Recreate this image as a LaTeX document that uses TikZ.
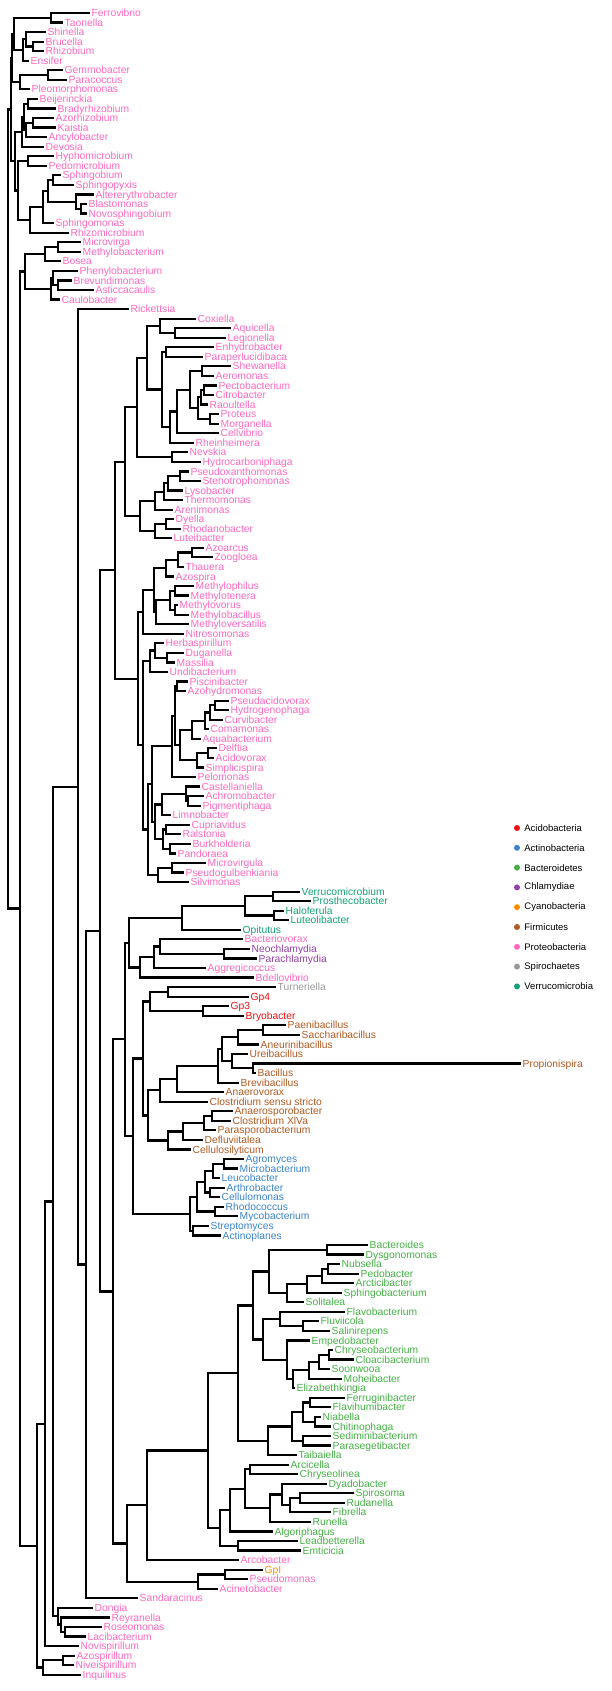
\documentclass[tikz,border=0pt]{standalone}
\usepackage{fontspec}
\setmainfont{Liberation Sans}
\usetikzlibrary{calc, positioning}

\definecolor{proteo}{HTML}{FF69BE}
\definecolor{acido}{HTML}{EE1111}
\definecolor{actino}{HTML}{3A84CC}
\definecolor{bactero}{HTML}{45B045}
\definecolor{chlamy}{HTML}{9340A8}
\definecolor{cyano}{HTML}{FF8C00}
\definecolor{firmi}{HTML}{B05A22}
\definecolor{spiro}{HTML}{999999}
\definecolor{verruco}{HTML}{14A078}

\tikzset{
  branch/.style={line width=2.2pt, line cap=rect},
  leaf/.style={anchor=base west, inner sep=0pt, xshift=2.5pt, yshift=-3.6pt,
    font=\fontsize{10.3}{10.3}\selectfont},
  dot/.style={circle, inner sep=0pt, minimum size=6pt},
  key/.style={inner sep=0pt, font=\fontsize{9.5}{9.5}\selectfont}
}

% internal node: name, x, first child, last child
\newcommand{\clade}[4]{%
  \path let \p1=(#3), \p2=(#4) in coordinate (#1) at (#2pt,{0.5*\y1+0.5*\y2});
  \draw[branch] (#1) |- (#3) (#1) |- (#4);
}

\begin{document}
\begin{tikzpicture}[x=1pt, y=-1pt]
  \useasboundingbox (0,0) rectangle (612,1691);

  % Tips and labels
  \foreach \i/\tip/\lab/\col in {
    1/89/Ferrovibrio/proteo, 2/62/Taonella/proteo, 3/45/Shinella/proteo,
    4/43/Brucella/proteo, 5/43/Rhizobium/proteo, 6/28/Ensifer/proteo,
    7/62/Gemmobacter/proteo, 8/66/Paracoccus/proteo, 9/29/Pleomorphomonas/proteo,
    10/37/Beijerinckia/proteo, 11/55/Bradyrhizobium/proteo, 12/53/Azorhizobium/proteo,
    13/55/Kaistia/proteo, 14/46/Ancylobacter/proteo, 15/43/Devosia/proteo,
    16/53/Hyphomicrobium/proteo, 17/46/Pedomicrobium/proteo, 18/60/Sphingobium/proteo,
    19/73/Sphingopyxis/proteo, 20/93/Altererythrobacter/proteo, 21/86/Blastomonas/proteo,
    22/86/Novosphingobium/proteo, 23/53/Sphingomonas/proteo, 24/68/Rhizomicrobium/proteo,
    25/80/Microvirga/proteo, 26/80/Methylobacterium/proteo, 27/60/Bosea/proteo,
    28/77/Phenylobacterium/proteo, 29/71/Brevundimonas/proteo, 30/93/Asticcacaulis/proteo,
    31/59/Caulobacter/proteo, 32/128/Rickettsia/proteo, 33/195/Coxiella/proteo,
    34/230/Aquicella/proteo, 35/225/Legionella/proteo, 36/213/Enhydrobacter/proteo,
    37/202/Paraperlucidibaca/proteo, 38/230/Shewanella/proteo, 39/213/Aeromonas/proteo,
    40/216/Pectobacterium/proteo, 41/213/Citrobacter/proteo, 42/207/Raoultella/proteo,
    43/218/Proteus/proteo, 44/218/Morganella/proteo, 45/218/Cellvibrio/proteo,
    46/193/Rheinheimera/proteo, 47/187/Nevskia/proteo, 48/200/Hydrocarboniphaga/proteo,
    49/188/Pseudoxanthomonas/proteo, 50/200/Stenotrophomonas/proteo, 51/182/Lysobacter/proteo,
    52/182/Thermomonas/proteo, 53/172/Arenimonas/proteo, 54/173/Dyella/proteo,
    55/180/Rhodanobacter/proteo, 56/171/Luteibacter/proteo, 57/203/Azoarcus/proteo,
    58/212/Zoogloea/proteo, 59/183/Thauera/proteo, 60/173/Azospira/proteo,
    61/193/Methylophilus/proteo, 62/188/Methylotenera/proteo, 63/177/Methylovorus/proteo,
    64/188/Methylobacillus/proteo, 65/188/Methyloversatilis/proteo, 66/183/Nitrosomonas/proteo,
    67/163/Herbaspirillum/proteo, 68/183/Duganella/proteo, 69/174/Massilia/proteo,
    70/167/Undibacterium/proteo, 71/187/Piscinibacter/proteo, 72/185/Azohydromonas/proteo,
    73/228/Pseudacidovorax/proteo, 74/228/Hydrogenophaga/proteo, 75/222/Curvibacter/proteo,
    76/208/Comamonas/proteo, 77/200/Aquabacterium/proteo, 78/216/Delftia/proteo,
    79/213/Acidovorax/proteo, 80/203/Simplicispira/proteo, 81/195/Pelomonas/proteo,
    82/199/Castellaniella/proteo, 83/203/Achromobacter/proteo, 84/200/Pigmentiphaga/proteo,
    85/170/Limnobacter/proteo, 86/189/Cupriavidus/proteo, 87/180/Ralstonia/proteo,
    88/190/Burkholderia/proteo, 89/175/Pandoraea/proteo, 90/205/Microvirgula/proteo,
    91/183/Pseudogulbenkiania/proteo, 92/188/Silvimonas/proteo,
    93/299/Verrucomicrobium/verruco, 94/310/Prosthecobacter/verruco, 95/283/Haloferula/verruco,
    96/288/Luteolibacter/verruco, 97/240/Opitutus/verruco,
    98/242/Bacteriovorax/proteo, 99/249/Neochlamydia/chlamy, 100/256/Parachlamydia/chlamy,
    101/205/Aggregicoccus/proteo, 102/253/Bdellovibrio/proteo, 103/275/Turneriella/spiro,
    104/248/Gp4/acido, 105/228/Gp3/acido, 106/243/Bryobacter/acido,
    107/285/Paenibacillus/firmi, 108/299/Saccharibacillus/firmi, 109/258/Aneurinibacillus/firmi,
    110/247/Ureibacillus/firmi, 111/520/Propionispira/firmi, 112/255/Bacillus/firmi,
    113/238/Brevibacillus/firmi, 114/223/Anaerovorax/firmi, 115/207/Clostridium sensu stricto/firmi,
    116/232/Anaerosporobacter/firmi, 117/230/Clostridium XlVa/firmi, 118/215/Parasporobacterium/firmi,
    119/202/Defluviitalea/firmi, 120/190/Cellulosilyticum/firmi,
    121/243/Agromyces/actino, 122/237/Microbacterium/actino, 123/219/Leucobacter/actino,
    124/224/Arthrobacter/actino, 125/219/Cellulomonas/actino, 126/223/Rhodococcus/actino,
    127/237/Mycobacterium/actino, 128/208/Streptomyces/actino, 129/220/Actinoplanes/actino,
    130/367/Bacteroides/bactero, 131/363/Dysgonomonas/bactero, 132/339/Nubsella/bactero,
    133/358/Pedobacter/bactero, 134/353/Arcticibacter/bactero, 135/341/Sphingobacterium/bactero,
    136/303/Solitalea/bactero, 137/344/Flavobacterium/bactero, 138/318/Fluviicola/bactero,
    139/329/Salinirepens/bactero, 140/309/Empedobacter/bactero, 141/332/Chryseobacterium/bactero,
    142/353/Cloacibacterium/bactero, 143/329/Soonwooa/bactero, 144/341/Moheibacter/bactero,
    145/294/Elizabethkingia/bactero, 146/344/Ferruginibacter/bactero, 147/330/Flavihumibacter/bactero,
    148/320/Niabella/bactero, 149/330/Chitinophaga/bactero, 150/330/Sediminibacterium/bactero,
    151/330/Parasegetibacter/bactero, 152/296/Taibaiella/bactero, 153/288/Arcicella/bactero,
    154/297/Chryseolinea/bactero, 155/326/Dyadobacter/bactero, 156/353/Spirosoma/bactero,
    157/344/Rudanella/bactero, 158/330/Fibrella/bactero, 159/310/Runella/bactero,
    160/272/Algoriphagus/bactero, 161/297/Leadbetterella/bactero, 162/300/Emticicia/bactero,
    163/238/Arcobacter/proteo, 164/262/GpI/cyano, 165/247/Pseudomonas/proteo,
    166/217/Acinetobacter/proteo, 167/137/Sandaracinus/proteo, 168/92/Dongia/proteo,
    169/109/Reyranella/proteo, 170/101/Roseomonas/proteo, 171/85/Lacibacterium/proteo,
    172/78/Novispirillum/proteo, 173/74/Azospirillum/proteo, 174/73/Niveispirillum/proteo,
    175/80/Inquilinus/proteo}
  {
    \coordinate (T\i) at (\tip, {13+9.55*(\i-1)});
    \node[leaf, text=\col] (L\i) at (T\i) {\lab};
  }

  % Alphaproteobacteria, upper part
  \clade{g1}{51}{T1}{T2}
  \clade{a1}{33}{T4}{T5}
  \clade{a2}{26}{T3}{a1}
  \clade{a3}{23}{a2}{T6}
  \clade{b1}{14}{g1}{a3}
  \clade{g2}{48}{T7}{T8}
  \clade{g3}{20}{g2}{T9}
  \clade{b2}{12}{b1}{g3}
  \clade{d1}{28}{T10}{T11}
  \clade{d2}{33}{T12}{T13}
  \clade{d3}{26}{d2}{T14}
  \clade{d4}{24}{d1}{d3}
  \clade{d5}{22}{d4}{T15}
  \clade{h1}{28}{T16}{T17}
  \clade{s1}{53}{T18}{T19}
  \clade{s2}{81}{T21}{T22}
  \clade{s3}{76}{T20}{s2}
  \clade{s4}{48}{s1}{s3}
  \clade{s5}{43}{s4}{T23}
  \clade{s6}{30}{s5}{T24}
  \clade{h2}{18}{h1}{s6}
  \clade{c1}{15}{d5}{h2}
  \clade{e1}{11}{b2}{c1}
  \clade{m1}{58}{T25}{T26}
  \clade{m2}{45}{m1}{T27}
  \clade{p1}{58}{T29}{T30}
  \clade{p2}{53}{T28}{p1}
  \clade{p3}{51}{p2}{T31}
  \clade{m3}{25}{m2}{p3}

  % Gammaproteobacteria
  \clade{cx1}{175}{T34}{T35}
  \clade{cx2}{160}{T33}{cx1}
  \clade{ep}{166}{T36}{T37}
  \clade{sa}{202}{T38}{T39}
  \clade{pc1}{204}{T40}{T41}
  \clade{pc2}{201}{pc1}{T42}
  \clade{pm}{210}{T43}{T44}
  \clade{pm3}{198}{pc2}{pm}
  \clade{n190}{190}{sa}{pm3}
  \clade{n177}{177}{n190}{T45}
  \clade{n170}{170}{n177}{T46}
  \clade{n162}{162}{ep}{n170}
  \clade{n147p}{147}{cx2}{n162}
  \clade{nh}{172}{T47}{T48}
  \clade{n137}{137}{n147p}{nh}
  \clade{x0}{180}{T49}{T50}
  \clade{x1}{168}{x0}{T51}
  \clade{x2}{164}{x1}{T52}
  \clade{x3}{155}{x2}{T53}
  \clade{dr}{166}{T54}{T55}
  \clade{x4}{155}{dr}{T56}
  \clade{n140}{140}{x3}{x4}
  \clade{n125p}{125}{n137}{n140}

  % Betaproteobacteria
  \clade{az1}{192}{T57}{T58}
  \clade{az2}{178}{az1}{T59}
  \clade{az3}{166}{az2}{T60}
  \clade{mt1}{175}{T61}{T62}
  \clade{mt2}{175}{T63}{T64}
  \clade{mt3}{170}{mt1}{mt2}
  \clade{mt4}{156}{mt3}{T65}
  \clade{mm1}{154}{az3}{mt4}
  \clade{m0}{143}{mm1}{T66}
  \clade{ox1}{167}{T68}{T69}
  \clade{ox2}{155}{T67}{ox1}
  \clade{ox3}{150}{ox2}{T70}
  \clade{pa}{177}{T71}{T72}
  \clade{ph}{215}{T73}{T74}
  \clade{phc}{210}{ph}{T75}
  \clade{com}{205}{phc}{T76}
  \clade{coa}{192}{com}{T77}
  \clade{da}{208}{T78}{T79}
  \clade{das}{197}{da}{T80}
  \clade{cd}{180}{coa}{das}
  \clade{pcd}{175}{pa}{cd}
  \clade{cp}{172}{pcd}{T81}
  \clade{al1}{188}{T83}{T84}
  \clade{al2}{186}{T82}{al1}
  \clade{al3}{162}{al2}{T85}
  \clade{cr}{166}{T86}{T87}
  \clade{bp}{170}{T88}{T89}
  \clade{crbp}{163}{cr}{bp}
  \clade{alc}{155}{al3}{crbp}
  \clade{mp}{172}{T90}{T91}
  \clade{mps}{158}{mp}{T92}
  \clade{q1}{152}{cp}{alc}
  \clade{q2}{148}{q1}{mps}
  \clade{q3}{143}{ox3}{q2}
  \clade{q4}{138}{m0}{q3}
  \clade{n115}{115}{n125p}{q4}

  % Verrucomicrobia, Chlamydiae and others
  \clade{v1}{273}{T93}{T94}
  \clade{v2}{274}{T95}{T96}
  \clade{v3}{245}{v1}{v2}
  \clade{v4}{182}{v3}{T97}
  \clade{ch1}{224}{T99}{T100}
  \clade{ch2}{160}{T98}{ch1}
  \clade{ch3}{154}{ch2}{T101}
  \clade{ch4}{140}{ch3}{T102}
  \clade{vc}{129}{v4}{ch4}

  % Acidobacteria and Firmicutes
  \clade{ac1}{168}{T103}{T104}
  \clade{ac2}{203}{T105}{T106}
  \clade{ac3}{150}{ac1}{ac2}
  \clade{f0}{263}{T107}{T108}
  \clade{f1a}{238}{f0}{T109}
  \clade{fb}{253}{T111}{T112}
  \clade{fu}{232}{T110}{fb}
  \clade{f1}{222}{f1a}{fu}
  \clade{f2}{218}{f1}{T113}
  \clade{f3}{177}{f2}{T114}
  \clade{f4}{160}{f3}{T115}
  \clade{cl1}{212}{T116}{T117}
  \clade{cl2}{204}{cl1}{T118}
  \clade{cl3}{183}{cl2}{T119}
  \clade{cl4}{168}{cl3}{T120}
  \clade{f5}{148}{f4}{cl4}
  \clade{af}{143}{ac3}{f5}

  % Actinobacteria
  \clade{at1}{224}{T121}{T122}
  \clade{at2}{213}{at1}{T123}
  \clade{at3}{210}{T124}{T125}
  \clade{at4}{205}{at2}{at3}
  \clade{rm}{215}{T126}{T127}
  \clade{at5}{197}{at4}{rm}
  \clade{sa2}{193}{T128}{T129}
  \clade{at6}{190}{at5}{sa2}
  \clade{afa}{133}{af}{at6}
  \clade{n125}{125}{vc}{afa}

  % Bacteroidetes
  \clade{bd}{327}{T130}{T131}
  \clade{sb1}{328}{T132}{T133}
  \clade{sb2}{322}{sb1}{T134}
  \clade{sb3}{307}{sb2}{T135}
  \clade{sb4}{287}{sb3}{T136}
  \clade{bb1}{269}{bd}{sb4}
  \clade{fl1}{303}{T138}{T139}
  \clade{fl0}{280}{T137}{fl1}
  \clade{fl2}{329}{T141}{T142}
  \clade{fl3}{319}{fl2}{T143}
  \clade{fl4}{309}{fl3}{T144}
  \clade{fl5}{293}{fl4}{T145}
  \clade{fl6}{287}{T140}{fl5}
  \clade{fl7}{263}{fl0}{fl6}
  \clade{bb2}{253}{bb1}{fl7}
  \clade{cf1}{310}{T146}{T147}
  \clade{cf2}{315}{T148}{T149}
  \clade{cf3}{303}{cf1}{cf2}
  \clade{cf4}{303}{T150}{T151}
  \clade{cf5}{292}{cf3}{cf4}
  \clade{cf6}{268}{cf5}{T152}
  \clade{b3}{238}{bb2}{cf6}
  \clade{cy0}{250}{T153}{T154}
  \clade{sr}{300}{T156}{T157}
  \clade{srf}{290}{sr}{T158}
  \clade{cy1}{282}{T155}{srf}
  \clade{cy2}{270}{cy1}{T159}
  \clade{n245}{245}{cy0}{cy2}
  \clade{n230}{230}{n245}{T160}
  \clade{le}{238}{T161}{T162}
  \clade{n220}{220}{n230}{le}
  \clade{n208}{208}{b3}{n220}
  \clade{n147}{147}{n208}{T163}
  \clade{gp}{225}{T164}{T165}
  \clade{n198}{198}{gp}{T166}
  \clade{n127}{127}{n147}{n198}
  \clade{n113}{113}{n125}{n127}

  % Backbone
  \clade{n100}{100}{n115}{n113}
  \clade{n86}{86}{n100}{T167}
  \clade{n78}{78}{T32}{n86}
  \clade{dg1}{65}{T170}{T171}
  \clade{dg2}{61}{T169}{dg1}
  \clade{dg3}{58}{T168}{dg2}
  \clade{n53}{53}{n78}{dg3}
  \clade{n45}{45}{n53}{T172}
  \clade{ig1}{63}{T173}{T174}
  \clade{ig2}{43}{ig1}{T175}
  \clade{n37}{37}{n45}{ig2}
  \clade{n18}{20}{m3}{n37}
  \clade{root}{8}{e1}{n18}

  % Legend
  \foreach \k/\nm/\col in {0/Acidobacteria/acido, 1/Actinobacteria/actino,
    2/Bacteroidetes/bactero, 3/Chlamydiae/chlamy, 4/Cyanobacteria/cyano,
    5/Firmicutes/firmi, 6/Proteobacteria/proteo, 7/Spirochaetes/spiro,
    8/Verrucomicrobia/verruco}
  {
    \node[dot, fill=\col] (D\k) at (517, {828+19.8*\k}) {};
    \node[key, right=4pt of D\k] (K\k) {\nm};
  }
\end{tikzpicture}
\end{document}
